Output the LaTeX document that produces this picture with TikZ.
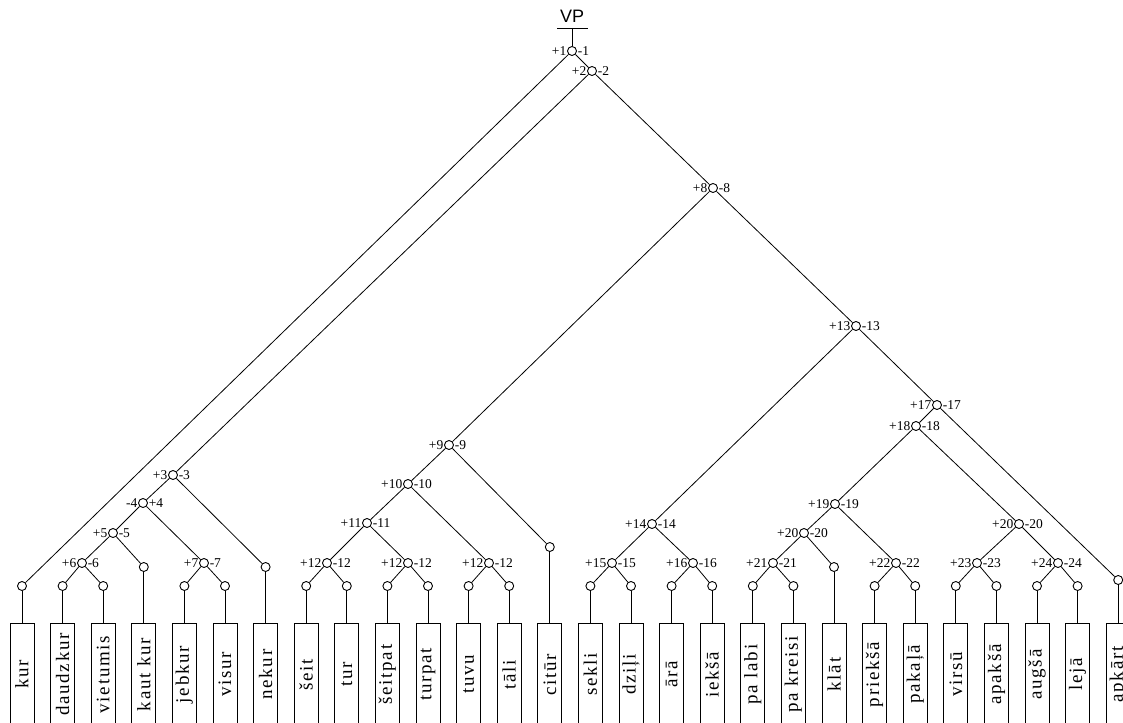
\documentclass[tikz,border=0pt]{standalone}
\usepackage{fontspec}
\setmainfont{Liberation Serif}
\newfontfamily\vpfont{Liberation Sans}
\newfontfamily\leaffont[LetterSpace=9]{Liberation Serif}
\usetikzlibrary{positioning}

\begin{document}
\begin{tikzpicture}[
    x=1pt, y=-1pt,
    knot/.style={circle, draw, fill=white, inner sep=0pt, minimum size=9pt, line width=0.9pt},
    sign/.style={font=\fontsize{13.5}{13.5}\selectfont, inner sep=0.6pt},
    pm/.style={knot, label={[sign]left:+#1}, label={[sign]right:-#1}},
    mp/.style={knot, label={[sign]left:-#1}, label={[sign]right:+#1}},
    leaf/.style={draw, rectangle, rotate=90, anchor=east, minimum width=102pt, minimum height=24pt, inner sep=0pt, line width=1pt, font=\leaffont\fontsize{19}{19}\selectfont},
    branch/.style={line width=0.8pt},
    stem/.style={line width=1pt},
]
    \useasboundingbox (0,0) rectangle (1123,722);

    % Root
    \node[font=\vpfont\fontsize{18}{18}\selectfont] (vp) at (572,16) {VP};
    \coordinate (bar) at (572,28);
    \coordinate (barL) at (557,28);
    \coordinate (barR) at (588,28);
    \draw[branch] (barL) -- (barR);

    % Inner knots
    \node[pm=1] (n1) at (572,51) {};
    \node[pm=2] (n2) at (592,71) {};
    \node[pm=3] (n3) at (173,475) {};
    \node[mp=4] (n4) at (143,503) {};
    \node[pm=5] (n5) at (113,533) {};
    \node[pm=6] (n6) at (82,563) {};
    \node[pm=7] (n7) at (204,563) {};
    \node[pm=8] (n8) at (713,188) {};
    \node[pm=9] (n9) at (449,445) {};
    \node[pm=10] (n10) at (408,484) {};
    \node[pm=11] (n11) at (367,523) {};
    \node[pm=12] (n12a) at (327,563) {};
    \node[pm=12] (n12b) at (408,563) {};
    \node[pm=12] (n12c) at (489,563) {};
    \node[pm=13] (n13) at (856,326) {};
    \node[pm=14] (n14) at (652,524) {};
    \node[pm=15] (n15) at (612,563) {};
    \node[pm=16] (n16) at (693,563) {};
    \node[pm=17] (n17) at (937,405) {};
    \node[pm=18] (n18) at (916,426) {};
    \node[pm=19] (n19) at (835,504) {};
    \node[pm=20] (n20a) at (804,533) {};
    \node[pm=21] (n21) at (773,563) {};
    \node[pm=22] (n22) at (896,563) {};
    \node[pm=20] (n20b) at (1019,524) {};
    \node[pm=23] (n23) at (977,563) {};
    \node[pm=24] (n24) at (1058,563) {};

    % Leaves
    \foreach \word/\ty [count=\i from 0] in {kur/586, daudzkur/586, vietumis/586, kaut kur/567, jebkur/586, visur/586, nekur/567, šeit/586, tur/586, šeitpat/586, turpat/586, tuvu/586, tāli/586, citūr/547, sekli/586, dziļi/586, ārā/586, iekšā/586, pa labi/586, pa kreisi/586, klāt/567, priekšā/586, pakaļā/586, virsū/586, apakšā/586, augšā/586, lejā/586, apkārt/580} {
        \node[knot] (t\i) at (22+40.6*\i, \ty) {};
        \node[leaf] (l\i) at (22+40.6*\i, 623) {\word};
        \draw[stem] (t\i) -- (l\i);
    }

    % Branches
    \draw[branch] (bar) -- (n1);
    \draw[branch] (n1) -- (t0);
    \draw[branch] (n1) -- (n2);
    \draw[branch] (n2) -- (n3);
    \draw[branch] (n2) -- (n8);
    \draw[branch] (n3) -- (n4);
    \draw[branch] (n3) -- (t6);
    \draw[branch] (n4) -- (n5);
    \draw[branch] (n4) -- (n7);
    \draw[branch] (n5) -- (n6);
    \draw[branch] (n5) -- (t3);
    \draw[branch] (n6) -- (t1);
    \draw[branch] (n6) -- (t2);
    \draw[branch] (n7) -- (t4);
    \draw[branch] (n7) -- (t5);
    \draw[branch] (n8) -- (n9);
    \draw[branch] (n8) -- (n13);
    \draw[branch] (n9) -- (n10);
    \draw[branch] (n9) -- (t13);
    \draw[branch] (n10) -- (n11);
    \draw[branch] (n10) -- (n12c);
    \draw[branch] (n11) -- (n12a);
    \draw[branch] (n11) -- (n12b);
    \draw[branch] (n12a) -- (t7);
    \draw[branch] (n12a) -- (t8);
    \draw[branch] (n12b) -- (t9);
    \draw[branch] (n12b) -- (t10);
    \draw[branch] (n12c) -- (t11);
    \draw[branch] (n12c) -- (t12);
    \draw[branch] (n13) -- (n14);
    \draw[branch] (n13) -- (n17);
    \draw[branch] (n14) -- (n15);
    \draw[branch] (n14) -- (n16);
    \draw[branch] (n15) -- (t14);
    \draw[branch] (n15) -- (t15);
    \draw[branch] (n16) -- (t16);
    \draw[branch] (n16) -- (t17);
    \draw[branch] (n17) -- (n18);
    \draw[branch] (n17) -- (t27);
    \draw[branch] (n18) -- (n19);
    \draw[branch] (n18) -- (n20b);
    \draw[branch] (n19) -- (n20a);
    \draw[branch] (n19) -- (n22);
    \draw[branch] (n20a) -- (n21);
    \draw[branch] (n20a) -- (t20);
    \draw[branch] (n21) -- (t18);
    \draw[branch] (n21) -- (t19);
    \draw[branch] (n22) -- (t21);
    \draw[branch] (n22) -- (t22);
    \draw[branch] (n20b) -- (n23);
    \draw[branch] (n20b) -- (n24);
    \draw[branch] (n23) -- (t23);
    \draw[branch] (n23) -- (t24);
    \draw[branch] (n24) -- (t25);
    \draw[branch] (n24) -- (t26);
\end{tikzpicture}
\end{document}
